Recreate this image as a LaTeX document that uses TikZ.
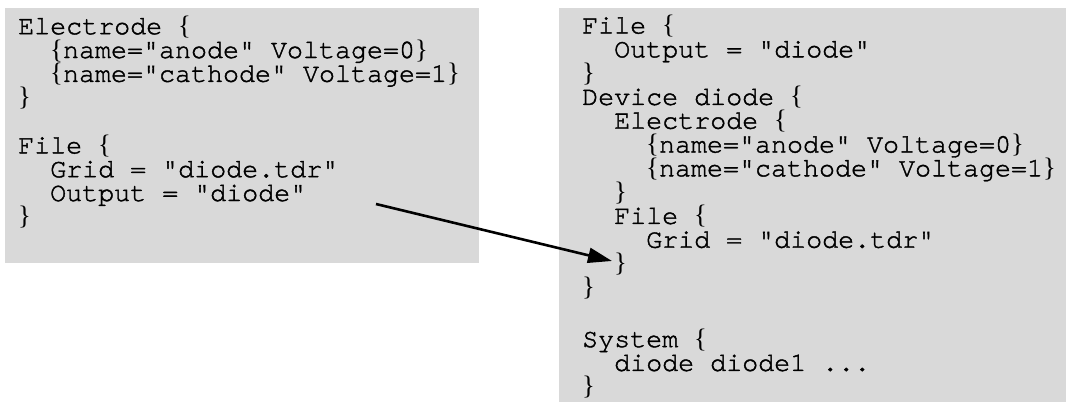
\documentclass[tikz,border=0pt]{standalone}
\usepackage{fontspec}
\usepackage{tikz}
\usetikzlibrary{arrows.meta,positioning}
\newfontfamily\codefont{texgyrecursor-regular.otf}[RawFeature={embolden=1.5}]
\newfontfamily\bracefont{Liberation Serif}
\newcommand{\ob}{{\bracefont\{}}
\newcommand{\cb}{{\bracefont\}}}
\definecolor{panelgray}{HTML}{D9D9D9}
\setlength{\lineskiplimit}{-100pt}

\begin{document}
\begin{tikzpicture}[
  x=1pt, y=-1pt,
  panel/.style={rectangle, fill=panelgray, inner sep=0pt, anchor=north west},
  code/.style={inner sep=0pt, anchor=north west, align=left,
    font=\codefont\fontsize{26.67pt}{23.8pt}\selectfont},
  arrow/.style={-{Triangle[length=24pt, width=15pt]}, line width=2.6pt},
]
  \useasboundingbox (0,0) rectangle (1066,402);

  \node[panel, minimum width=474pt, minimum height=255pt] (oldpanel) at (5,8) {};
  \node[panel, minimum width=507pt, minimum height=394pt] (newpanel) at (559,8) {};

  \node[code] (oldcode) at (18,15.5)
    {Electrode \ob\\
     ~~\ob name="anode" Voltage=0\cb\\
     ~~\ob name="cathode" Voltage=1\cb\\
     \cb\\[24pt]
     File \ob\\
     ~~Grid = "diode.tdr"\\
     ~~Output = "diode"\\
     \cb};

  \node[code] (newcode) at (582,14.8)
    {File \ob\\
     ~~Output = "diode"\\
     \cb\\
     Device diode \ob\\
     ~~Electrode \ob\\
     ~~~~\ob name="anode" Voltage=0\cb\\
     ~~~~\ob name="cathode" Voltage=1\cb\\
     ~~\cb\\
     ~~File \ob\\
     ~~~~Grid = "diode.tdr"\\
     ~~\cb\\
     \cb\\[28pt]
     System \ob\\
     ~~diode diode1 ...\\
     \cb};

  \coordinate (gridline) at (376,204);
  \coordinate (gridclose) at (612,261);
  \draw[arrow] (gridline) -- (gridclose);
\end{tikzpicture}
\end{document}
